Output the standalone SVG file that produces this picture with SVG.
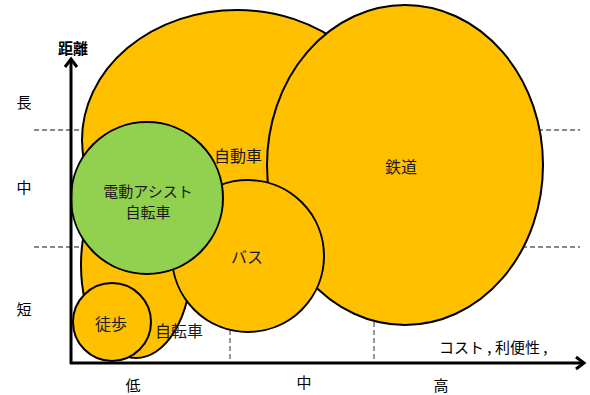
<svg xmlns="http://www.w3.org/2000/svg" width="590" height="395" viewBox="0 0 590 395">
<style>
.bub{fill:#FFC000;stroke:#000;stroke-width:2}
.grn{fill:#92D050;stroke:#000;stroke-width:2}
.lbl{font-family:"Noto Sans CJK JP","Noto Sans",sans-serif;font-size:16px;fill:#1a1a1a;text-anchor:middle}
.sm{font-size:15px}
.ax{font-family:"Noto Sans CJK JP","Noto Sans",sans-serif;font-size:15px;fill:#000;text-anchor:middle}
.hd{fill:none;stroke:#111;stroke-width:1;stroke-dasharray:5 3}
.vd{fill:none;stroke:#333;stroke-width:1;stroke-dasharray:5 3}
.axis{fill:none;stroke:#000;stroke-width:3}
</style>
<rect width="590" height="395" fill="#fff"/>
<g id="gridlines">
<line class="hd" x1="34" y1="130" x2="580" y2="130"/>
<line class="hd" x1="34" y1="247" x2="580" y2="247"/>
<line class="vd" x1="230" y1="250" x2="230" y2="362"/>
<line class="vd" x1="374" y1="250" x2="374" y2="362"/>
</g>
<g id="car"><ellipse class="bub" cx="237" cy="140" rx="155" ry="130"/></g>
<g id="rail"><ellipse class="bub" cx="405" cy="165" rx="138" ry="160"/></g>
<g id="bicycle"><ellipse class="bub" cx="136" cy="265" rx="55" ry="93"/></g>
<g id="bus"><circle class="bub" cx="248" cy="256" r="76"/></g>
<g id="ebike"><circle class="grn" cx="147" cy="198" r="76"/></g>
<g id="walk"><circle class="bub" cx="112" cy="322" r="39"/></g>
<g id="labels">
<text class="lbl" x="238" y="162">自動車</text>
<text class="lbl" x="401" y="173">鉄道</text>
<text class="lbl sm" x="148" y="197">電動アシスト</text>
<text class="lbl sm" x="148" y="218">自転車</text>
<text class="lbl" x="247" y="263">バス</text>
<text class="lbl" x="111" y="330">徒歩</text>
<text class="lbl" x="179" y="337">自転車</text>
</g>
<g id="connectors">
<line class="axis" x1="71" y1="364" x2="71" y2="59"/>
<polyline class="axis" points="65,67 71,59 77,67"/>
<line class="axis" x1="70" y1="363" x2="584" y2="363"/>
<polyline class="axis" points="576,357 584,363 576,369"/>
</g>
<g id="axis-labels">
<text class="ax" x="73" y="54" font-weight="bold" font-size="16">距離</text>
<text class="ax" x="24" y="108">長</text>
<text class="ax" x="24" y="193">中</text>
<text class="ax" x="24" y="315">短</text>
<text class="ax" x="133" y="391">低</text>
<text class="ax" x="304" y="388">中</text>
<text class="ax" x="441" y="391">高</text>
<text class="ax" x="439" y="353" style="text-anchor:start">コスト , 利便性 ,</text>
</g>
</svg>
